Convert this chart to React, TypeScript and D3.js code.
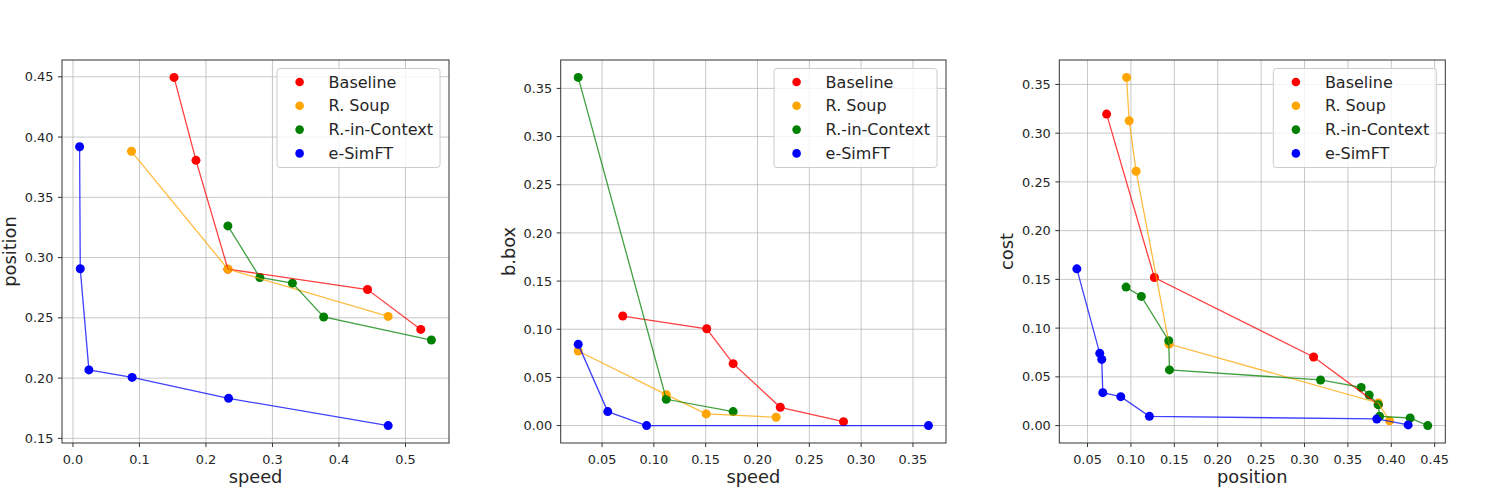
import * as d3 from 'd3';

const seriesNames = ['Baseline', 'R. Soup', 'R.-in-Context', 'e-SimFT'];
const seriesColors = ['#ff0000', '#ffa500', '#008000', '#0000ff'];

// panel 1: speed vs position
const p1Baseline = [[0.152, 0.4495], [0.185, 0.3807], [0.233, 0.2904], [0.443, 0.2735], [0.523, 0.2404]];
const p1Soup = [[0.088, 0.3882], [0.233, 0.2904], [0.474, 0.2512]];
const p1Context = [[0.233, 0.3263], [0.281, 0.2835], [0.330, 0.2788], [0.377, 0.2507], [0.539, 0.2316]];
const p1SimFT = [[0.010, 0.392], [0.011, 0.2907], [0.024, 0.2068], [0.089, 0.2006], [0.234, 0.1832], [0.474, 0.1606]];

// panel 2: speed vs b.box
const p2Baseline = [[0.070, 0.1137], [0.151, 0.1005], [0.1765, 0.0643], [0.222, 0.019], [0.283, 0.0041]];
const p2Soup = [[0.027, 0.0774], [0.112, 0.0321], [0.1505, 0.0121], [0.218, 0.0086]];
const p2Context = [[0.027, 0.3614], [0.112, 0.0273], [0.1765, 0.0145]];
const p2SimFT = [[0.027, 0.0843], [0.0555, 0.0145], [0.093, 0.0], [0.365, 0.0]];

// panel 3: position vs cost
const p3Baseline = [[0.072, 0.3196], [0.127, 0.1519], [0.3105, 0.0704], [0.385, 0.0215]];
const p3Soup = [[0.095, 0.3572], [0.098, 0.3127], [0.106, 0.2609], [0.144, 0.0837], [0.385, 0.0232], [0.398, 0.0049]];
const p3Context = [[0.0944, 0.1421], [0.112, 0.1325], [0.1436, 0.0871], [0.1444, 0.0571], [0.3185, 0.0468],
  [0.3653, 0.0392], [0.3745, 0.0314], [0.3849, 0.0215], [0.3865, 0.0095], [0.4217, 0.0078], [0.442, 0.0]];
const p3SimFT = [[0.0377, 0.1608], [0.0641, 0.0741], [0.0664, 0.0679], [0.0676, 0.0338], [0.0883, 0.0297],
  [0.1213, 0.0095], [0.3833, 0.0068], [0.4194, 0.0007]];

const p1XTicks = [0.0, 0.1, 0.2, 0.3, 0.4, 0.5];
const p1YTicks = [0.15, 0.20, 0.25, 0.30, 0.35, 0.40, 0.45];
const p2XTicks = [0.05, 0.10, 0.15, 0.20, 0.25, 0.30, 0.35];
const p2YTicks = [0.00, 0.05, 0.10, 0.15, 0.20, 0.25, 0.30, 0.35];
const p3XTicks = [0.05, 0.10, 0.15, 0.20, 0.25, 0.30, 0.35, 0.40, 0.45];
const p3YTicks = [0.00, 0.05, 0.10, 0.15, 0.20, 0.25, 0.30, 0.35];

const panels = [
  { left: 62, right: 449, xLabel: 'speed', yLabel: 'position', series: [p1Baseline, p1Soup, p1Context, p1SimFT], xTicks: p1XTicks, yTicks: p1YTicks, xFmt: '.1f', yFmt: '.2f' },
  { left: 560.7, right: 946, xLabel: 'speed', yLabel: 'b.box', series: [p2Baseline, p2Soup, p2Context, p2SimFT], xTicks: p2XTicks, yTicks: p2YTicks, xFmt: '.2f', yFmt: '.2f' },
  { left: 1059.3, right: 1445.3, xLabel: 'position', yLabel: 'cost', series: [p3Baseline, p3Soup, p3Context, p3SimFT], xTicks: p3XTicks, yTicks: p3YTicks, xFmt: '.2f', yFmt: '.2f' },
];

const TOP = 60;
const BOTTOM = 443;
const FONT = 'DejaVu Sans, sans-serif';
const TEXT = '#262626';

// matplotlib style 5% margins
function padded(vals: number[]) {
  const [lo, hi] = d3.extent(vals) as [number, number];
  const m = (hi - lo) * 0.05;
  return [lo - m, hi + m];
}

function Panel({ p }: { p: any }) {
  const all = p.series.flat();
  const x = d3.scaleLinear().domain(padded(all.map((d: number[]) => d[0]))).range([p.left, p.right]);
  const y = d3.scaleLinear().domain(padded(all.map((d: number[]) => d[1]))).range([BOTTOM, TOP]);
  const line = d3.line<number[]>().x(d => x(d[0])).y(d => y(d[1]));
  const xf = d3.format(p.xFmt);
  const yf = d3.format(p.yFmt);
  const lgX = p.right - 172;
  const lgY = TOP + 8.5;

  return (
    <g>
      {/* grid */}
      {p.xTicks.map((t: number) => (
        <line key={'gx' + t} x1={x(t)} x2={x(t)} y1={TOP} y2={BOTTOM} stroke="#b0b0b0" strokeOpacity={0.7} strokeWidth={1} />
      ))}
      {p.yTicks.map((t: number) => (
        <line key={'gy' + t} x1={p.left} x2={p.right} y1={y(t)} y2={y(t)} stroke="#b0b0b0" strokeOpacity={0.7} strokeWidth={1} />
      ))}
      {/* scatter points first, lines above them */}
      {p.series.map((s: number[][], i: number) => (
        <g key={'pts' + i}>
          {s.map((d, j) => (
            <circle key={j} cx={x(d[0])} cy={y(d[1])} r={4.5} fill={seriesColors[i]} />
          ))}
        </g>
      ))}
      {p.series.map((s: number[][], i: number) => (
        <path key={'ln' + i} d={line(s) || ''} fill="none" stroke={seriesColors[i]} strokeOpacity={0.75} strokeWidth={1.3} />
      ))}
      {/* axes frame */}
      <rect x={p.left} y={TOP} width={p.right - p.left} height={BOTTOM - TOP} fill="none" stroke="#333" strokeWidth={1} />
      {p.xTicks.map((t: number) => (
        <g key={'xt' + t}>
          <line x1={x(t)} x2={x(t)} y1={BOTTOM} y2={BOTTOM + 4} stroke="#333" />
          <text x={x(t)} y={463.5} textAnchor="middle" fontSize={12.9} fontFamily={FONT} fill={TEXT}>{xf(t)}</text>
        </g>
      ))}
      {p.yTicks.map((t: number) => (
        <g key={'yt' + t}>
          <line x1={p.left - 4} x2={p.left} y1={y(t)} y2={y(t)} stroke="#333" />
          <text x={p.left - 8.5} y={y(t) + 4.6} textAnchor="end" fontSize={12.9} fontFamily={FONT} fill={TEXT}>{yf(t)}</text>
        </g>
      ))}
      <text x={(p.left + p.right) / 2} y={483} textAnchor="middle" fontSize={17.8} fontFamily={FONT} fill={TEXT}>{p.xLabel}</text>
      <text transform={`translate(${p.left - 46},${(TOP + BOTTOM) / 2}) rotate(-90)`} textAnchor="middle" fontSize={17.8} fontFamily={FONT} fill={TEXT}>{p.yLabel}</text>
      {/* legend */}
      <rect x={lgX} y={lgY} width={163} height={99} rx={3} fill="#fff" fillOpacity={0.8} stroke="#cccccc" />
      {seriesNames.map((n, i) => (
        <g key={n}>
          <circle cx={lgX + 22.6} cy={lgY + 13.5 + i * 23.8} r={4.3} fill={seriesColors[i]} />
          <text x={lgX + 51.6} y={lgY + 13.5 + i * 23.8 + 5.6} fontSize={16} fontFamily={FONT} fill={TEXT}>{n}</text>
        </g>
      ))}
    </g>
  );
}

export default function App() {
  return (
    <svg width={1495} height={498} style={{ position: 'absolute', left: 0, top: 0, background: '#fff' }}>
      {panels.map((p, i) => <Panel key={i} p={p} />)}
    </svg>
  );
}
